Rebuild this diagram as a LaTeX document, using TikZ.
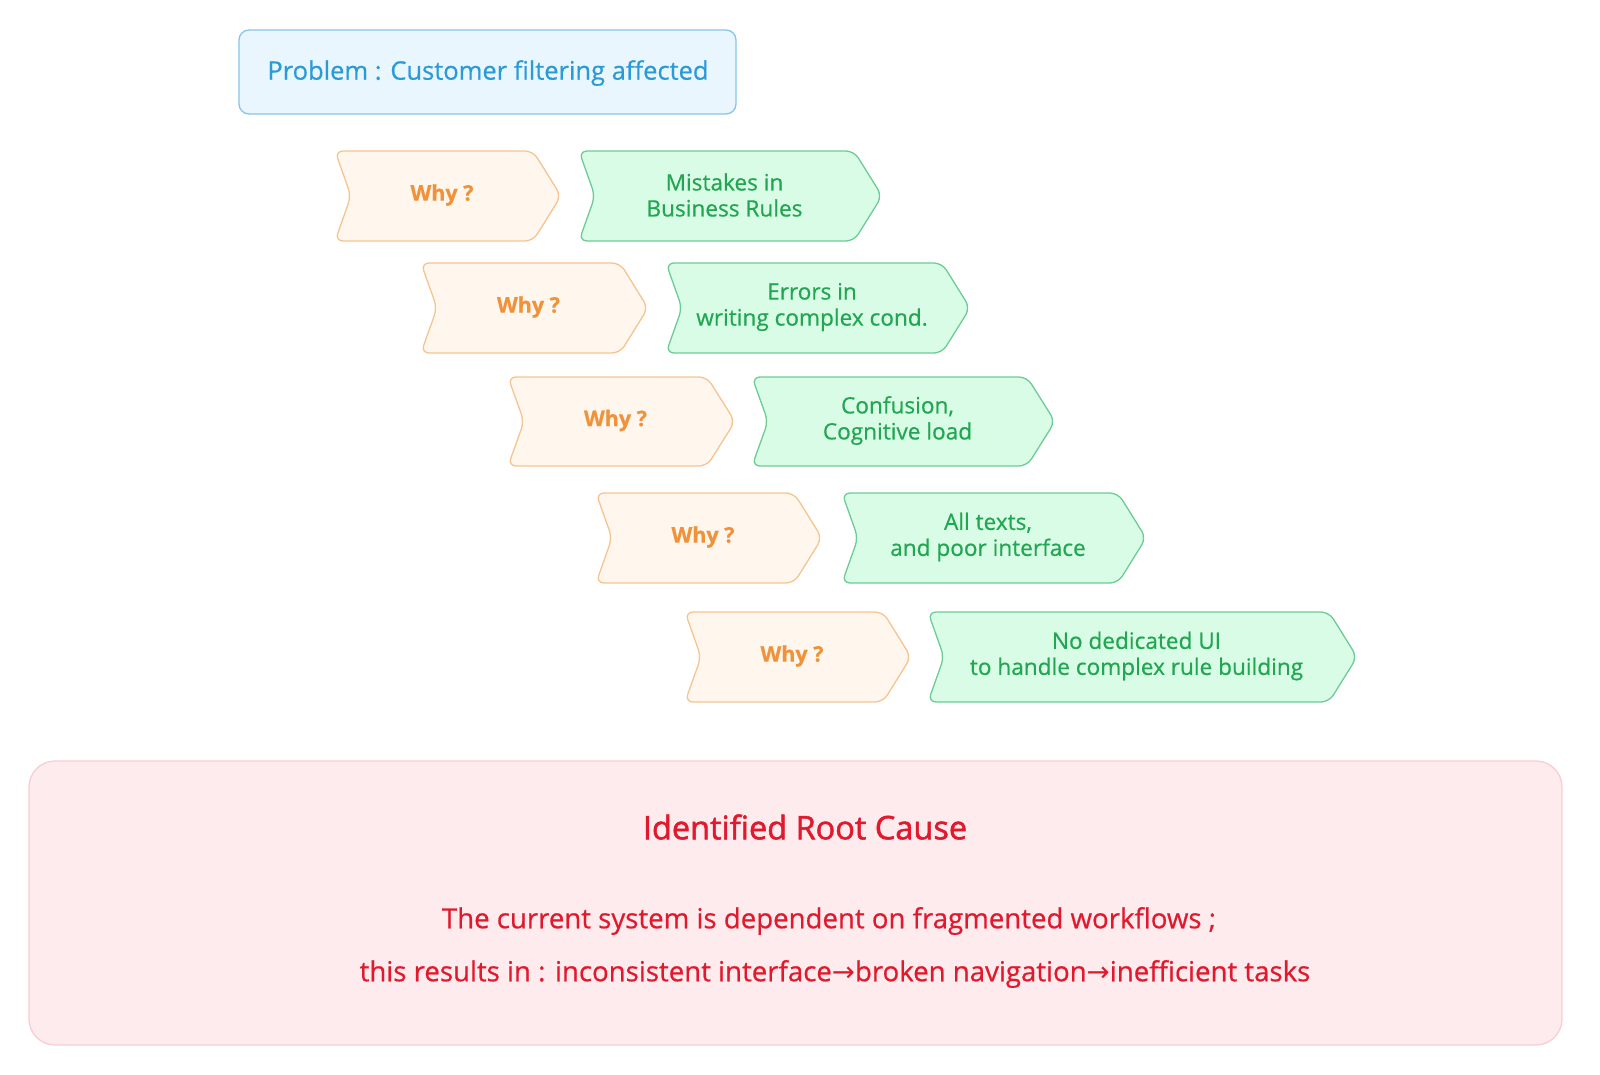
\documentclass[tikz,border=0pt]{standalone}
\usepackage{fontspec}
\setmainfont{Open Sans}[FakeBold=0.6]
\newfontfamily\titlefont{Open Sans}[FakeBold=1.6]
\newfontfamily\arrowfont{DejaVu Sans}
\definecolor{ofill}{HTML}{FFF6EE}
\definecolor{oline}{HTML}{F6C48F}
\definecolor{otext}{HTML}{F0923A}
\definecolor{gfill}{HTML}{D9FCE6}
\definecolor{gline}{HTML}{6DCB95}
\definecolor{gtext}{HTML}{22A652}
\definecolor{bfill}{HTML}{EAF6FE}
\definecolor{bline}{HTML}{86C5EA}
\definecolor{btext}{HTML}{2B9BD8}
\definecolor{rfill}{HTML}{FDEBEE}
\definecolor{rline}{HTML}{F9CDD2}
\definecolor{rtext}{HTML}{E0192D}
\tikzset{
  whyshape/.style={fill=ofill,draw=oline,line width=1.3pt,rounded corners=8pt},
  ansshape/.style={fill=gfill,draw=gline,line width=1.3pt,rounded corners=8pt},
  whytext/.style={text=otext,font=\fontsize{21.5}{26}\selectfont\bfseries,align=center,inner sep=0},
  anstext/.style={text=gtext,font=\fontsize{22.6}{26}\selectfont,align=center,inner sep=0},
}
% #1 shape style, #2 text style, #3 xl, #4 xr, #5 yt, #6 yb, #7 name, #8 text
\newcommand{\mychev}[8]{%
  \draw[#1] (#3,#5) -- ({#4-28},#5) -- (#4,{(#5+#6)/2}) -- ({#4-28},#6) -- (#3,#6) -- ({#3+16},{(#5+#6)/2}) -- cycle;
  \node[#2] (#7) at ({(#3+16+#4-28)/2},{(#5+#6)/2-1}) {#8};
}
\begin{document}
\begin{tikzpicture}[x=1pt,y=-1pt]
\useasboundingbox (0,0) rectangle (1600,1074);
% problem box
\draw[fill=bfill,draw=bline,line width=1.3pt,rounded corners=10pt] (239,30) rectangle (736,114);
\node[text=btext,font=\fontsize{25.5}{30}\selectfont] (problem) at (488,73) {Problem : Customer filtering affected};
% chevrons
\mychev{whyshape}{whytext}{335}{561}{151}{241}{why1}{Why ?}
\mychev{ansshape}{anstext}{579}{882}{151}{241}{ans1}{Mistakes in\\Business Rules}
\mychev{whyshape}{whytext}{421}{648}{263}{353}{why2}{Why ?}
\mychev{ansshape}{anstext}{666}{970}{263}{353}{ans2}{Errors in\\writing complex cond.}
\mychev{whyshape}{whytext}{508}{735}{377}{466}{why3}{Why ?}
\mychev{ansshape}{anstext}{752}{1055}{377}{466}{ans3}{Confusion,\\Cognitive load}
\mychev{whyshape}{whytext}{596}{822}{493}{583}{why4}{Why ?}
\mychev{ansshape}{anstext}{842}{1146}{493}{583}{ans4}{All texts,\\and poor interface}
\mychev{whyshape}{whytext}{685}{911}{612}{702}{why5}{Why ?}
\mychev{ansshape}{anstext}{928}{1357}{612}{702}{ans5}{No dedicated UI\\to handle complex rule building}
% root cause box
\draw[fill=rfill,draw=rline,line width=1.3pt,rounded corners=26pt] (29,761) rectangle (1562,1045);
\node[text=rtext,font=\fontsize{32.5}{38}\selectfont\titlefont] (roottitle) at (805,827) {Identified Root Cause};
\node[text=rtext,font=\fontsize{27.6}{32}\selectfont] (rootline1) at (829,921) {The current system is dependent on fragmented workflows ;};
\node[text=rtext,font=\fontsize{27.6}{32}\selectfont] (rootline2) at (835,974) {this results in : inconsistent interface{\arrowfont →}broken navigation{\arrowfont →}inefficient tasks};
\end{tikzpicture}
\end{document}
